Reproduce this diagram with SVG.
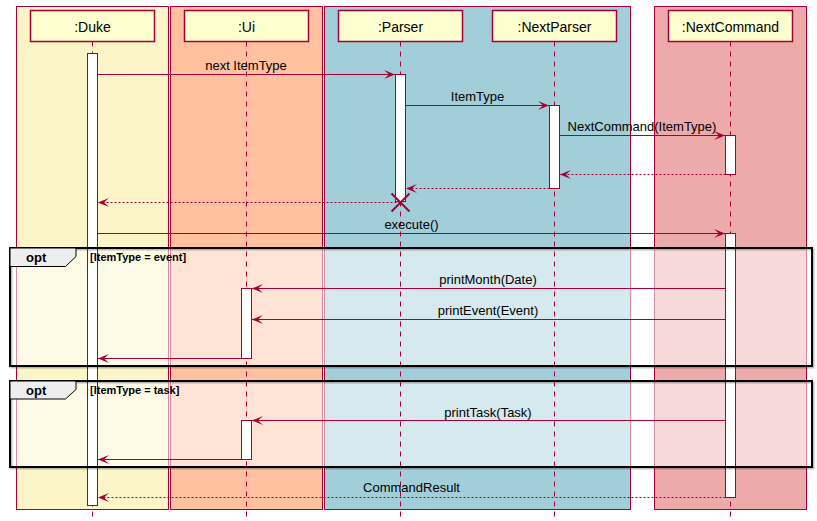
<svg xmlns="http://www.w3.org/2000/svg" width="817" height="521" viewBox="0 0 817 521">
<style>
text{font-family:"Liberation Sans",Arial,sans-serif;fill:#000}
.band{stroke:#A80036;stroke-width:1}
.head{fill:#FEFECE;stroke:#A80036;stroke-width:1.5}
.ht{font-size:14px;text-anchor:middle}
.life{stroke:#A80036;stroke-width:1;stroke-dasharray:5,5;fill:none}
.act{fill:#FFFFFF;stroke:#A80036;stroke-width:1}
.msg{stroke:#A80036;stroke-width:1;fill:none;marker-end:url(#ah)}
.ret{stroke:#A80036;stroke-width:1;fill:none;stroke-dasharray:2,2;marker-end:url(#ah)}
.ml{font-size:13px;text-anchor:middle}
.fbg{fill:#FFFFFF;fill-opacity:0.55;stroke:none}
.fr{fill:none;stroke:#000;stroke-width:2}
.fsh{fill:none;stroke:#000;stroke-opacity:0.25;stroke-width:2}
.tab{fill:#EEEEEE;stroke:#000;stroke-width:1}
.op{font-size:13px;font-weight:bold}
.gd{font-size:11px;font-weight:bold}
</style>
<defs>
<marker id="ah" viewBox="0 0 11 9" refX="11" refY="4.5" markerWidth="11" markerHeight="9" orient="auto" markerUnits="userSpaceOnUse">
<path d="M0,0 L11,4.5 L0,9 L5,4.5 Z" fill="#A80036"/>
</marker>
</defs>
<g id="boxes">
<rect class="band" x="16.5" y="6.5" width="152" height="503" fill="#FBF5C8"/>
<rect class="band" x="170.5" y="6.5" width="152" height="503" fill="#FFC19F"/>
<rect class="band" x="324.5" y="6.5" width="306" height="503" fill="#A2CED9"/>
<rect class="band" x="654.5" y="6.5" width="152" height="503" fill="#EDAAAA"/>
</g>
<g id="frame-backgrounds">
<rect class="fbg" x="10" y="248" width="802" height="118"/>
<rect class="fbg" x="10" y="381" width="802" height="86"/>
</g>
<g id="lifelines">
<line class="life" x1="92.5" y1="41.5" x2="92.5" y2="517"/>
<line class="life" x1="246.5" y1="41.5" x2="246.5" y2="517"/>
<line class="life" x1="400.5" y1="41.5" x2="400.5" y2="517"/>
<line class="life" x1="554.5" y1="41.5" x2="554.5" y2="517"/>
<line class="life" x1="730.5" y1="41.5" x2="730.5" y2="517"/>
</g>
<g id="Duke">
<rect class="head" x="30.5" y="10.5" width="124" height="31"/>
<text class="ht" x="92.5" y="31.5">:Duke</text>
<rect class="act" x="87.5" y="53.5" width="10" height="452"/>
</g>
<g id="Ui">
<rect class="head" x="184.5" y="10.5" width="124" height="31"/>
<text class="ht" x="246.5" y="31.5">:Ui</text>
<rect class="act" x="241.5" y="288.5" width="10" height="70"/>
<rect class="act" x="241.5" y="420.5" width="10" height="39"/>
</g>
<g id="Parser">
<rect class="head" x="338.5" y="10.5" width="124" height="31"/>
<text class="ht" x="400.5" y="31.5">:Parser</text>
<rect class="act" x="395.5" y="74.5" width="10" height="127"/>
</g>
<g id="NextParser">
<rect class="head" x="492.5" y="10.5" width="124" height="31"/>
<text class="ht" x="554.5" y="31.5">:NextParser</text>
<rect class="act" x="549.5" y="105.5" width="10" height="83"/>
</g>
<g id="NextCommand">
<rect class="head" x="668.5" y="10.5" width="124" height="31"/>
<text class="ht" x="730.5" y="31.5">:NextCommand</text>
<rect class="act" x="725.5" y="135.5" width="10" height="39"/>
<rect class="act" x="725.5" y="233.5" width="10" height="264"/>
</g>
<g id="connectors">
<line class="msg" x1="97.5" y1="74.5" x2="395" y2="74.5"/>
<text class="ml" x="246" y="70">next ItemType</text>
<line class="msg" x1="405.5" y1="105.5" x2="549" y2="105.5"/>
<text class="ml" x="477.5" y="100.5">ItemType</text>
<line class="msg" x1="559.5" y1="135.5" x2="725" y2="135.5"/>
<text class="ml" x="642" y="131">NextCommand(ItemType)</text>
<line class="ret" x1="725.5" y1="174.5" x2="560" y2="174.5"/>
<line class="ret" x1="549.5" y1="188.5" x2="406" y2="188.5"/>
<line class="ret" x1="400.5" y1="202.5" x2="98" y2="202.5"/>
<path d="M391.5,193.5 L409.5,211.5 M409.5,193.5 L391.5,211.5" stroke="#A80036" stroke-width="2" fill="none"/>
<line class="msg" x1="97.5" y1="233.5" x2="725" y2="233.5"/>
<text class="ml" x="411.5" y="228.5">execute()</text>
<line class="msg" x1="725.5" y1="288.5" x2="252" y2="288.5"/>
<text class="ml" x="488" y="284">printMonth(Date)</text>
<line class="msg" x1="725.5" y1="319.5" x2="252" y2="319.5"/>
<text class="ml" x="488" y="315">printEvent(Event)</text>
<line class="msg" x1="241.5" y1="358.5" x2="98" y2="358.5"/>
<line class="msg" x1="725.5" y1="420.5" x2="252" y2="420.5"/>
<text class="ml" x="488" y="416.5">printTask(Task)</text>
<line class="msg" x1="241.5" y1="459.5" x2="98" y2="459.5"/>
<line class="ret" x1="725.5" y1="497.5" x2="98" y2="497.5"/>
<text class="ml" x="411.5" y="492">CommandResult</text>
</g>
<g id="opt-event">
<rect class="fsh" x="11.5" y="249.5" width="802" height="118"/>
<rect class="fr" x="10" y="248" width="802" height="118"/>
<path class="tab" d="M10,248 L76,248 L76,256.5 L65.5,266.5 L10,266.5 Z"/>
<text class="op" x="26" y="262">opt</text>
<text class="gd" x="90" y="261">[ItemType = event]</text>
</g>
<g id="opt-task">
<rect class="fsh" x="11.5" y="382.5" width="802" height="86"/>
<rect class="fr" x="10" y="381" width="802" height="86"/>
<path class="tab" d="M10,381 L76,381 L76,389.5 L65.5,399 L10,399 Z"/>
<text class="op" x="26" y="394.5">opt</text>
<text class="gd" x="90" y="393.5">[ItemType = task]</text>
</g>
</svg>
